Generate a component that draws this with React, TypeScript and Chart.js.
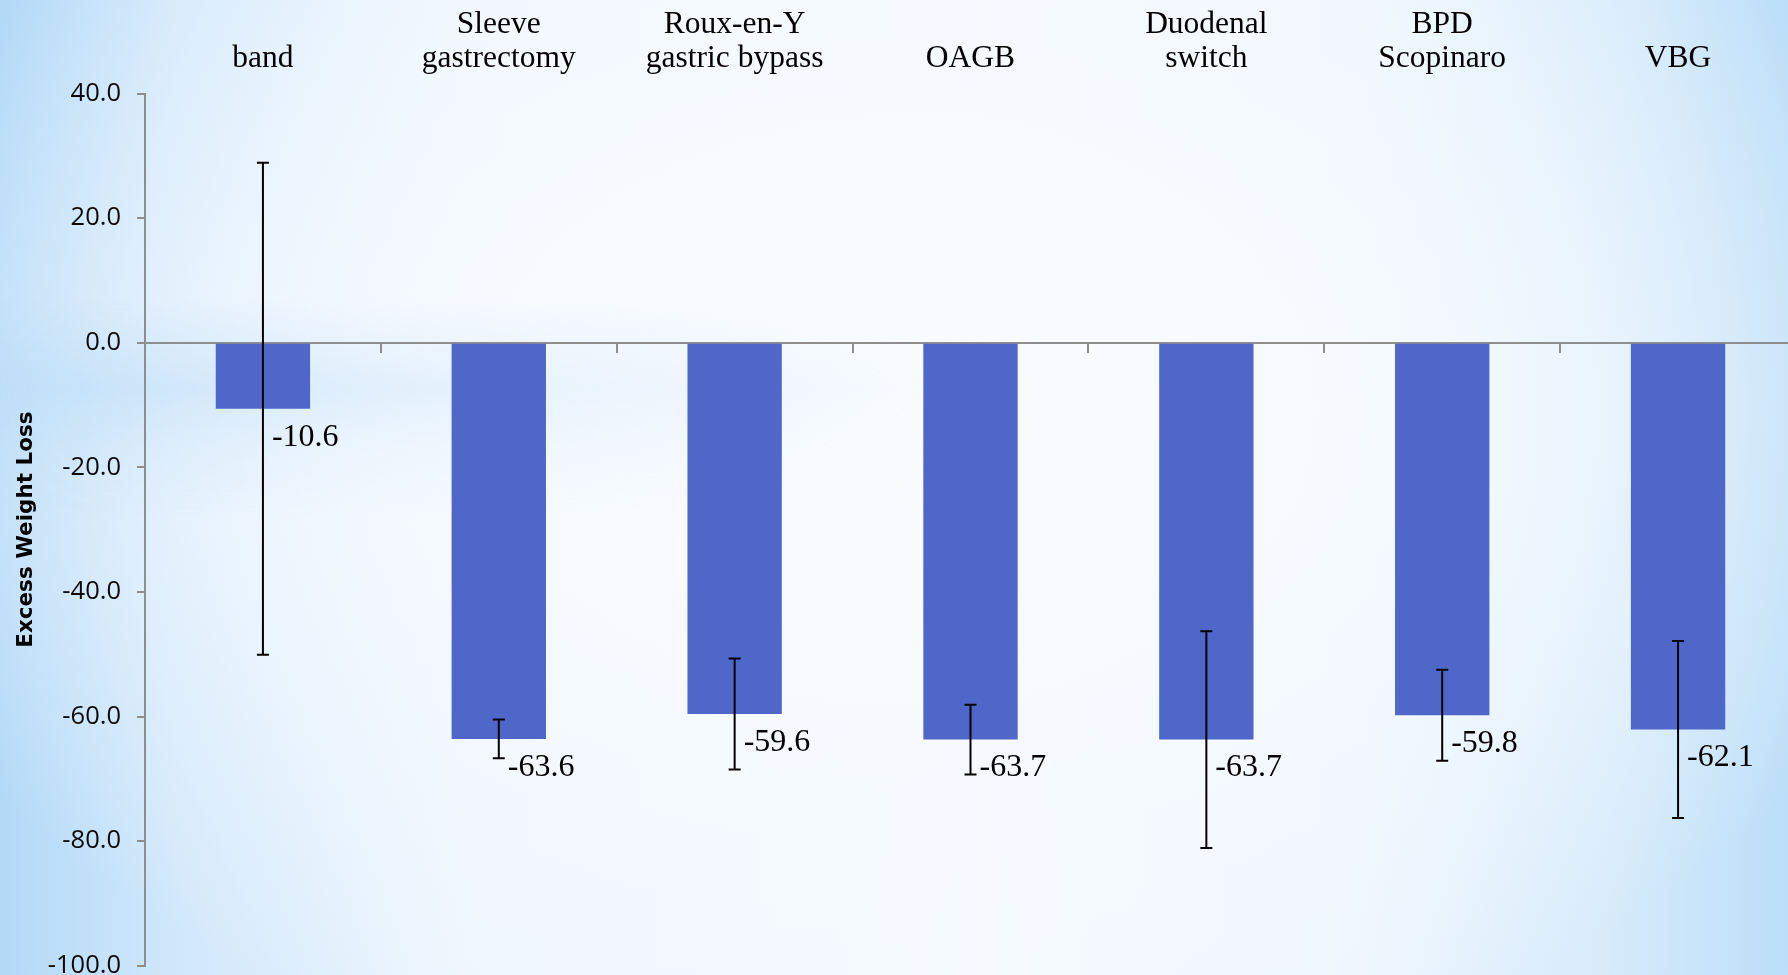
import React, { useEffect, useRef } from 'react';
import { Chart, registerables } from 'chart.js';

Chart.register(...registerables);

// ---- data ----
const categories: string[][] = [
  ['band'],
  ['Sleeve', 'gastrectomy'],
  ['Roux-en-Y', 'gastric bypass'],
  ['OAGB'],
  ['Duodenal', 'switch'],
  ['BPD', 'Scopinaro'],
  ['VBG'],
];
const ewlValues: number[] = [-10.6, -63.6, -59.6, -63.7, -63.7, -59.8, -62.1];
const ewlErrors: number[] = [39.5, 3.1, 8.9, 5.6, 17.4, 7.3, 14.2];
const yTickValues: number[] = [40, 20, 0, -20, -40, -60, -80, -100];
const yAxisTitle = 'Excess Weight Loss';

const AXIS_GRAY = '#8e8e8e';
const BAR_COLOR = 'rgb(79,103,200)';

const errorBarPlugin = {
  id: 'errorBars',
  afterDatasetsDraw(chart: any) {
    const { ctx } = chart;
    const yScale = chart.scales.y;
    const meta = chart.getDatasetMeta(0);
    ctx.save();
    ctx.strokeStyle = '#000';
    ctx.lineWidth = 2;
    meta.data.forEach((el: any, i: number) => {
      const v = ewlValues[i];
      const e = ewlErrors[i];
      const x = el.x;
      const yTop = yScale.getPixelForValue(v + e);
      const yBot = yScale.getPixelForValue(v - e);
      ctx.beginPath();
      ctx.moveTo(x, yTop);
      ctx.lineTo(x, yBot);
      ctx.moveTo(x - 6, yTop);
      ctx.lineTo(x + 6, yTop);
      ctx.moveTo(x - 6, yBot);
      ctx.lineTo(x + 6, yBot);
      ctx.stroke();
    });
    // value labels
    ctx.fillStyle = '#000';
    ctx.font = '32px "Liberation Serif"';
    ctx.textAlign = 'left';
    ctx.textBaseline = 'middle';
    meta.data.forEach((el: any, i: number) => {
      ctx.fillText(ewlValues[i].toFixed(1), el.x + 9, el.y + 28.5);
    });
    ctx.restore();
  },
};

export default function App() {
  const canvasRef = useRef<HTMLCanvasElement | null>(null);

  useEffect(() => {
    if (!canvasRef.current) return;
    const chart = new Chart(canvasRef.current, {
      type: 'bar',
      data: {
        labels: categories as any,
        datasets: [
          {
            data: ewlValues,
            backgroundColor: BAR_COLOR,
            borderWidth: 0,
            categoryPercentage: 1,
            barPercentage: 0.4,
          },
        ],
      },
      options: {
        responsive: false,
        maintainAspectRatio: false,
        devicePixelRatio: 1,
        animation: false,
        layout: { padding: { left: 0, top: 0, right: 4, bottom: 9.3 } },
        plugins: {
          legend: { display: false },
          tooltip: { enabled: false },
        },
        scales: {
          x: {
            type: 'category',
            position: 'top',
            offset: true,
            grid: { display: false, offset: true },
            border: { display: false },
            ticks: {
              color: '#000',
              font: { family: '"Liberation Serif"', size: 31.5, lineHeight: 1.09 },
              padding: 9.5,
              maxRotation: 0,
              minRotation: 0,
              autoSkip: false,
            },
            afterFit(s: any) {
              s.height = 93.5;
              s.paddingLeft = 0;
              s.paddingRight = 0;
            },
          },
          x2: {
            type: 'category',
            axis: 'x',
            position: { y: 0 },
            offset: true,
            grid: {
              display: true,
              offset: true,
              drawOnChartArea: false,
              drawTicks: true,
              tickLength: 9,
              color: AXIS_GRAY,
              lineWidth: 2,
            },
            border: { display: true, color: AXIS_GRAY, width: 2 },
            ticks: { display: false },
            afterFit(s: any) {
              s.paddingLeft = 0;
              s.paddingRight = 0;
            },
          },
          y: {
            type: 'linear',
            min: -100,
            max: 40,
            afterBuildTicks(s: any) {
              s.ticks = yTickValues.map((v) => ({ value: v }));
            },
            ticks: {
              callback: (v: any) => Number(v).toFixed(1),
              color: '#0a0a0a',
              font: { family: '"Open Sans"', size: 25.5 },
              padding: 16,
            },
            grid: {
              drawOnChartArea: false,
              drawTicks: true,
              tickLength: 8,
              color: AXIS_GRAY,
              lineWidth: 2,
            },
            border: { display: true, color: AXIS_GRAY, width: 2 },
            title: {
              display: true,
              text: yAxisTitle,
              color: '#000',
              font: { family: '"DejaVu Sans"', size: 21.5, weight: 'bold' },
              padding: { top: 13.6, bottom: 0 },
            },
            afterFit(s: any) {
              s.width = 145;
              s.paddingTop = 0;
              s.paddingBottom = 0;
            },
          },
        },
      } as any,
      plugins: [errorBarPlugin],
    });
    return () => chart.destroy();
  }, []);

  return (
    <div
      style={{
        position: 'fixed',
        left: 0,
        top: 0,
        width: 1788,
        height: 975,
        overflow: 'hidden',
        background:
          'radial-gradient(ellipse 60% 72% at 50% 42%, rgba(250,252,255,1) 0%, rgba(246,250,255,0.95) 45%, rgba(246,250,255,0) 100%),' +
          'linear-gradient(to right, #b3d9f7 0%, #d1e8fb 10%, #eef6fe 26%, #f6faff 55%, #eef6fe 76%, #d6ebfb 90%, #bcdef8 100%)',
      }}
    >
      <div
        style={{
          position: 'absolute',
          left: 0,
          top: 300,
          width: 1000,
          height: 220,
          background:
            'linear-gradient(to bottom, rgba(185,220,247,0) 0%, rgba(185,220,247,0.6) 40%, rgba(185,220,247,0.2) 70%, rgba(185,220,247,0) 100%)',
          WebkitMaskImage: 'linear-gradient(to right, black 0%, rgba(0,0,0,0.5) 40%, transparent 100%)',
          maskImage: 'linear-gradient(to right, black 0%, rgba(0,0,0,0.5) 40%, transparent 100%)',
        }}
      />
      <canvas
        ref={canvasRef}
        width={1800}
        height={975}
        style={{ position: 'absolute', left: 0, top: 0, width: 1800, height: 975, display: 'block' }}
      />
    </div>
  );
}
